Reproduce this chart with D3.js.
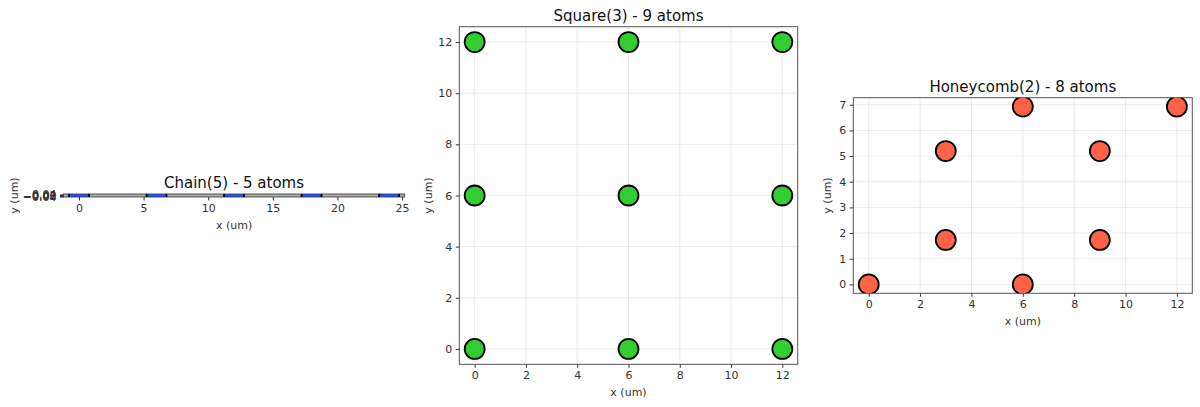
<!DOCTYPE html>
<html>
<head>
<meta charset="utf-8">
<script src="https://cdn.jsdelivr.net/npm/d3@7"></script>
<style>
html,body{margin:0;padding:0;background:#fff;}
svg{display:block;font-family:"DejaVu Sans",sans-serif;}
</style>
</head>
<body>
<svg id="chart" width="1200" height="407"></svg>
<script>
// ---- data ----
const chainX = [0, 6, 12, 18, 24];
const chainY = [0, 0, 0, 0, 0];
const squareX = [0, 6, 12, 0, 6, 12, 0, 6, 12];
const squareY = [0, 0, 0, 6, 6, 6, 12, 12, 12];
const honeyX = [0, 6, 3, 9, 3, 9, 6, 12];
const honeyY = [0, 0, 1.732, 1.732, 5.196, 5.196, 6.928, 6.928];
const chainXTicks = [0, 5, 10, 15, 20, 25];
const chainYTicks = [-0.04, -0.02, 0.0, 0.02, 0.04];
const squareTicks = [0, 2, 4, 6, 8, 10, 12];
const honeyXTicks = [0, 2, 4, 6, 8, 10, 12];
const honeyYTicks = [0, 1, 2, 3, 4, 5, 6, 7];
const titles = ["Chain(5) - 5 atoms", "Square(3) - 9 atoms", "Honeycomb(2) - 8 atoms"];
const xLabel = "x (um)";
const yLabel = "y (um)";

const svg = d3.select("#chart");
const minus = s => s.replace("-", "\u2212");

function panel(o) {
  const x = d3.scaleLinear().domain(o.xd).range([o.left, o.right]);
  const y = d3.scaleLinear().domain(o.yd).range([o.bottom, o.top]);
  const g = svg.append("g");
  const clipId = "clip" + o.id;
  g.append("clipPath").attr("id", clipId).append("rect")
    .attr("x", o.left).attr("y", o.top).attr("width", o.right - o.left).attr("height", o.bottom - o.top);
  // grid
  g.append("g").selectAll("line").data(o.xt).join("line")
    .attr("x1", d => x(d)).attr("x2", d => x(d)).attr("y1", o.top).attr("y2", o.bottom)
    .attr("stroke", "#b0b0b0").attr("stroke-opacity", 0.3).attr("stroke-width", 0.8);
  g.append("g").selectAll("line").data(o.yt).join("line")
    .attr("y1", d => y(d)).attr("y2", d => y(d)).attr("x1", o.left).attr("x2", o.right)
    .attr("stroke", "#b0b0b0").attr("stroke-opacity", 0.3).attr("stroke-width", 0.8);
  // frame
  g.append("rect").attr("x", o.left).attr("y", o.top)
    .attr("width", o.right - o.left).attr("height", o.bottom - o.top)
    .attr("fill", o.bg || "none").attr("stroke", "#555").attr("stroke-width", 1);
  // points
  g.append("g").attr("clip-path", `url(#${clipId})`).selectAll("circle")
    .data(o.xs.map((v, i) => [v, o.ys[i]])).join("circle")
    .attr("cx", d => x(d[0])).attr("cy", d => y(d[1])).attr("r", 10)
    .attr("fill", o.color).attr("stroke", "#000").attr("stroke-width", 1.8);
  // axes
  const xa = g.append("g").attr("transform", `translate(0,${o.bottom})`)
    .call(d3.axisBottom(x).tickValues(o.xt).tickSize(3.5).tickPadding(3.5).tickFormat(o.xf || d3.format("d")));
  const ya = g.append("g").attr("transform", `translate(${o.left},0)`)
    .call(d3.axisLeft(y).tickValues(o.yt).tickSize(3.5).tickPadding(3.5).tickFormat(o.yf || d3.format("d")));
  [xa, ya].forEach(a => {
    a.select(".domain").remove();
    a.selectAll("line").attr("stroke", "#333");
    a.selectAll("text").attr("fill", "#333").style("font-size", "11px").style("font-family", "DejaVu Sans");
  });
  // title
  g.append("text").attr("x", (o.left + o.right) / 2).attr("y", o.top - 6)
    .attr("text-anchor", "middle").attr("fill", "#111").style("font-size", "15px").text(o.title);
  g.append("text").attr("x", (o.left + o.right) / 2).attr("y", o.bottom + 32)
    .attr("text-anchor", "middle").attr("fill", "#333").style("font-size", "11px").text(xLabel);
  g.append("text").attr("transform", `translate(${o.ylx},${(o.top + o.bottom) / 2}) rotate(-90)`)
    .attr("text-anchor", "middle").attr("dy", "0.35em").attr("fill", "#333").style("font-size", "11px").text(yLabel);
}

panel({id: 0, xs: chainX, ys: chainY, xd: [-1.2, 25.2], yd: [-0.055, 0.055],
  left: 63.5, right: 404.6, top: 194, bottom: 197, xt: chainXTicks, yt: chainYTicks, bg: "#aaa",
  yf: d => minus(d3.format(".2f")(d)), color: "#2E4FC0", title: titles[0], ylx: 14});
panel({id: 1, xs: squareX, ys: squareY, xd: [-0.6, 12.6], yd: [-0.6, 12.6],
  left: 459.3, right: 797.7, top: 26.7, bottom: 364.3, xt: squareTicks, yt: squareTicks,
  color: "#32CD32", title: titles[1], ylx: 428});
panel({id: 2, xs: honeyX, ys: honeyY, xd: [-0.6, 12.6], yd: [-0.3464, 7.2744],
  left: 853.3, right: 1192.3, top: 97.7, bottom: 293.3, xt: honeyXTicks, yt: honeyYTicks,
  color: "#FF6347", title: titles[2], ylx: 827});
</script>
</body>
</html>
